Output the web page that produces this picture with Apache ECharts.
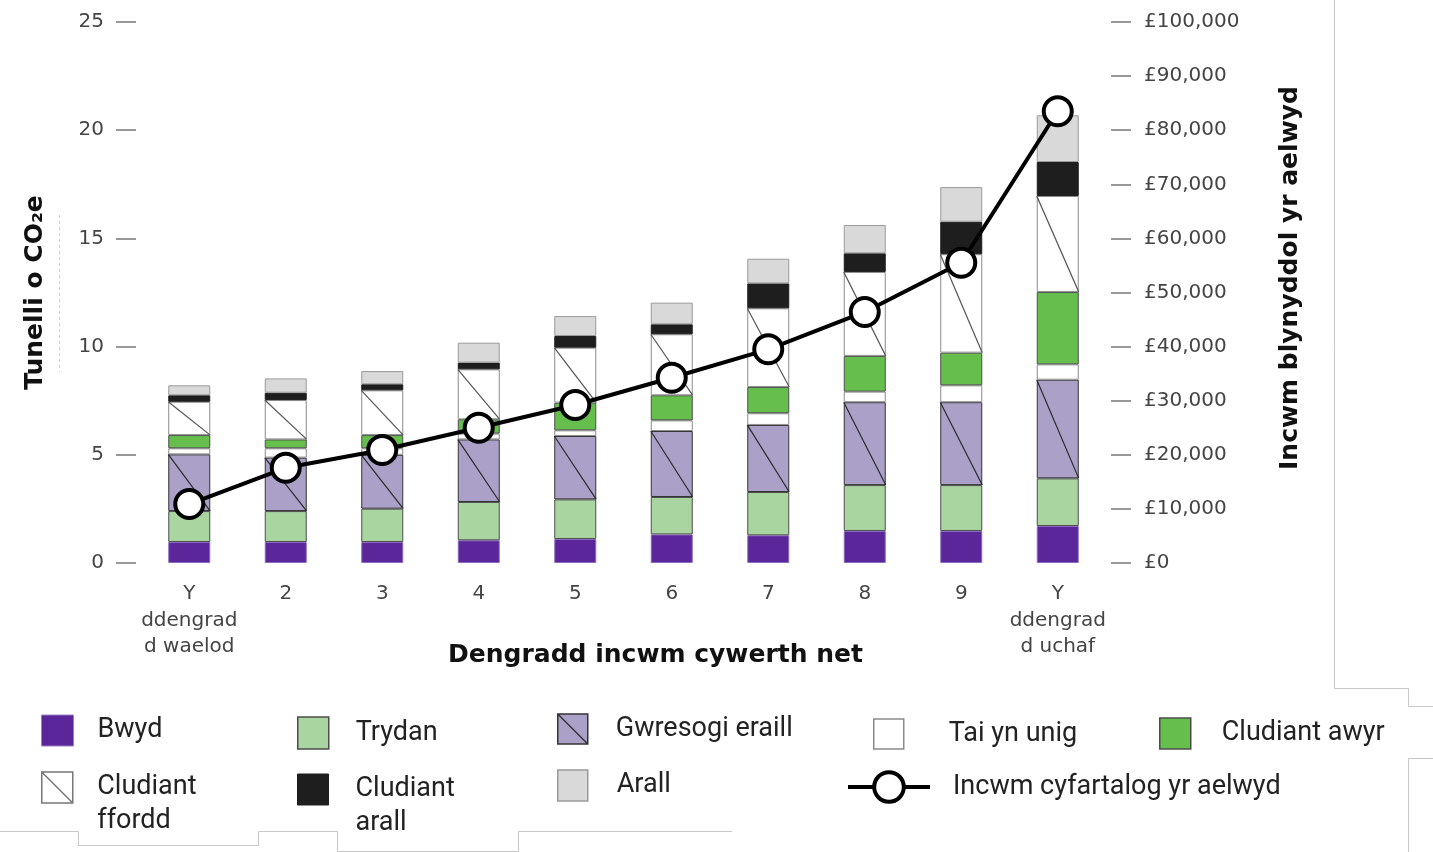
<!DOCTYPE html>
<html><head><meta charset="utf-8">
<script src="https://cdn.jsdelivr.net/npm/echarts@6/dist/echarts.min.js"></script>
<style>html,body{margin:0;padding:0;background:#fff}#c{width:1433px;height:852px}</style>
</head><body><div id="c"></div>
<script>
// ---- data ----
const categories = ['Y\nddengrad\nd waelod','2','3','4','5','6','7','8','9','Y\nddengrad\nd uchaf'];
const bwyd      = [0.97, 0.97, 0.97, 1.05, 1.11, 1.32, 1.28, 1.48, 1.48, 1.71];
const trydan    = [1.43, 1.43, 1.54, 1.77, 1.83, 1.73, 2.00, 2.12, 2.12, 2.20];
const gwresogi  = [2.62, 2.47, 2.49, 2.89, 2.93, 3.05, 3.10, 3.83, 3.83, 4.56];
const taiYnUnig = [0.28, 0.43, 0.30, 0.27, 0.26, 0.49, 0.54, 0.49, 0.78, 0.71];
const awyr      = [0.61, 0.41, 0.61, 0.66, 1.28, 1.16, 1.21, 1.65, 1.51, 3.34];
const ffordd    = [1.54, 1.82, 2.07, 2.31, 2.54, 2.82, 3.64, 3.88, 4.55, 4.44];
const cludArall = [0.30, 0.34, 0.28, 0.31, 0.54, 0.46, 1.15, 0.86, 1.50, 1.57];
const arall     = [0.46, 0.66, 0.61, 0.92, 0.92, 1.00, 1.14, 1.31, 1.60, 2.16];
const incwm     = [10900, 17600, 20900, 25000, 29200, 34250, 39500, 46400, 55500, 83500];
const leftTicks = [0, 25, 5];
const rightTicks = [0, 100000, 10000];

// ---- stacked series definitions ----
const stackDefs = [
  {name:'Bwyd', data:bwyd, color:'#5b2699', border:'#8a6cc0'},
  {name:'Trydan', data:trydan, color:'#a8d5a0', border:'#4d4d4d'},
  {name:'Gwresogi eraill', data:gwresogi, color:'#aaa0c8', border:'#333333'},
  {name:'Tai yn unig', data:taiYnUnig, color:'#ffffff', border:'#8a8a8a'},
  {name:'Cludiant awyr', data:awyr, color:'#66bf4d', border:'#4d4d4d'},
  {name:'Cludiant ffordd', data:ffordd, color:'#ffffff', border:'#8a8a8a'},
  {name:'Cludiant arall', data:cludArall, color:'#1e1e1e', border:'#1e1e1e'},
  {name:'Arall', data:arall, color:'#d9d9d9', border:'#9a9a9a'}
];
function cumBase(k, i){ let s=0; for(let j=0;j<k;j++) s+=stackDefs[j].data[i]; return s; }
const diagData = [];
categories.forEach((c,i)=>{
  const b2 = cumBase(2,i); diagData.push([i, b2, b2+gwresogi[i], 0]);
  const b5 = cumBase(5,i); diagData.push([i, b5, b5+ffordd[i], 1]);
});

const series = stackDefs.map(d=>({
  name:d.name, type:'bar', stack:'co2', barWidth:42, data:d.data, z:2,
  itemStyle:{color:d.color, borderColor:d.border, borderWidth:1}
}));
series.push({
  name:'diag', type:'custom', silent:true, z:3, data:diagData,
  encode:{x:0, y:2},
  renderItem:(params, api)=>{
    const i = api.value(0);
    const top = api.coord([i, api.value(2)]);
    const bot = api.coord([i, api.value(1)]);
    const hw = 21;
    return {type:'line', shape:{x1:top[0]-hw, y1:top[1], x2:top[0]+hw, y2:bot[1]},
      style:{stroke: api.value(3)===0 ? '#2a2a2a' : '#555555', lineWidth:1.2}};
  }
});
series.push({
  name:'Incwm cyfartalog yr aelwyd', type:'line', yAxisIndex:1, data:incwm, z:10,
  symbol:'circle', symbolSize:28,
  lineStyle:{color:'#000', width:4},
  itemStyle:{color:'#fff', borderColor:'#000', borderWidth:4}
});

// ---- legends ----
const diagIcon = 'path://M0,0L30,0L30,30L0,30Z M0,0L30,30';
const LH = 34;
function leg(name, iconLeft, iconTop, w, h, textLeft, icon, itemStyle, extra){
  const twoLine = (name==='Cludiant ffordd' || name==='Cludiant arall');
  const nLines = twoLine ? 3 : 1;   // leading empty line keeps first text line level with the icon
  const H = nLines*LH;
  const boxTop = h/2 - H/2;
  const padL = textLeft - iconLeft - w - 5;
  return {
    show:true, orient:'horizontal', left:iconLeft, top:iconTop + Math.min(0, boxTop), padding:0,
    itemWidth:w, itemHeight:h, selectedMode:false,
    data:[Object.assign({name:name, icon:icon, itemStyle:itemStyle}, extra||{})],
    formatter:n => twoLine ? '\n' + n.replace(' ', '\n') : n,
    textStyle:{fontFamily:'Roboto', fontSize:27, color:'#222', lineHeight:LH, padding:[0,0,0,padL]}
  };
}
const legends = [
  leg('Bwyd', 41, 715, 32, 31, 97, 'rect', {color:'#5b2699', borderColor:'#9a80c8', borderWidth:1}),
  leg('Trydan', 297, 717, 31, 32, 355, 'rect', {color:'#a8d5a0', borderColor:'#4d4d4d', borderWidth:1.5}),
  leg('Gwresogi eraill', 557, 713, 30, 32, 615, diagIcon, {color:'#aaa0c8', borderColor:'#333', borderWidth:1.5}),
  leg('Tai yn unig', 873, 719, 30, 30, 948, 'rect', {color:'#fff', borderColor:'#8a8a8a', borderWidth:1.5}),
  leg('Cludiant awyr', 1159, 718, 31, 31, 1221, 'rect', {color:'#66bf4d', borderColor:'#4d4d4d', borderWidth:1.5}),
  leg('Cludiant ffordd', 41, 772, 32, 31, 97, diagIcon, {color:'#fff', borderColor:'#777', borderWidth:1.5}),
  leg('Cludiant arall', 297, 774, 31, 31, 355, 'rect', {color:'#1e1e1e', borderColor:'#1e1e1e', borderWidth:1}),
  leg('Arall', 557, 770, 30, 31, 616, 'rect', {color:'#d9d9d9', borderColor:'#9a9a9a', borderWidth:1.5}),
  leg('Incwm cyfartalog yr aelwyd', 846, 770, 82, 37, 951, undefined,
      {color:'#fff', borderColor:'#000', borderWidth:4}, {lineStyle:{color:'#000', width:4}})
];

const tickLabel = {fontFamily:'DejaVu Sans', fontSize:20, color:'#444'};
const titleStyle = {fontFamily:'DejaVu Sans', fontWeight:'bold', fontSize:25, color:'#111'};
const gray = '#c8c8c8';

const option = {
  animation:false,
  backgroundColor:'#fff',
  grid:{left:141, right:327, top:22, bottom:289},
  legend: legends,
  xAxis:{type:'category', data:categories,
    axisLine:{show:false}, axisTick:{show:false},
    axisLabel:Object.assign({margin:18, lineHeight:26.5, interval:0}, tickLabel),
    name:'Dengradd incwm cywerth net', nameLocation:'middle', nameGap:80, nameMoveOverlap:false,
    nameTextStyle:Object.assign({padding:[0,0,0,64]}, titleStyle)},
  yAxis:[
    {type:'value', min:leftTicks[0], max:leftTicks[1], interval:leftTicks[2], position:'left', offset:5,
     axisLine:{show:false}, axisTick:{show:true, length:20, lineStyle:{color:'#777', width:1.5}},
     splitLine:{show:false}, axisLabel:Object.assign({margin:32}, tickLabel),
     name:'Tunelli o CO₂e', nameLocation:'middle', nameRotate:90, nameGap:88, nameMoveOverlap:false,
     nameTextStyle:titleStyle},
    {type:'value', min:rightTicks[0], max:rightTicks[1], interval:rightTicks[2], position:'right', offset:5,
     axisLine:{show:false}, axisTick:{show:true, length:20, lineStyle:{color:'#777', width:1.5}},
     splitLine:{show:false},
     axisLabel:Object.assign({margin:33, formatter:v=>'£'+String(v).replace(/\B(?=(\d{3})+(?!\d))/g, ',')}, tickLabel),
     name:'Incwm blynyddol yr aelwyd', nameLocation:'middle', nameRotate:90, nameGap:167, nameMoveOverlap:false,
     nameTextStyle:Object.assign({padding:[0,0,0,29]}, titleStyle)}
  ],
  graphic:[
    {type:'polyline', silent:true, shape:{points:[[1334.5,0],[1334.5,688.5],[1408.5,688.5],[1408.5,706.5],[1433,706.5]]}, style:{stroke:gray, fill:null, lineWidth:1}},
    {type:'polyline', silent:true, shape:{points:[[1433,758.5],[1408.5,758.5],[1408.5,852]]}, style:{stroke:gray, fill:null, lineWidth:1}},
    {type:'polyline', silent:true, shape:{points:[[0,831.5],[78.5,831.5],[78.5,845.5],[258.5,845.5],[258.5,831.5],[337.5,831.5],[337.5,851.5],[518.5,851.5],[518.5,831.5],[732,831.5]]}, style:{stroke:gray, fill:null, lineWidth:1}},
    {type:'line', silent:true, shape:{x1:59.5, y1:215, x2:59.5, y2:372}, style:{stroke:'#cccccc', lineWidth:1, lineDash:[3,3]}}
  ],
  series: series
};
const chart = echarts.init(document.getElementById('c'), null, {renderer:'canvas'});
chart.setOption(option);
</script>
</body></html>
